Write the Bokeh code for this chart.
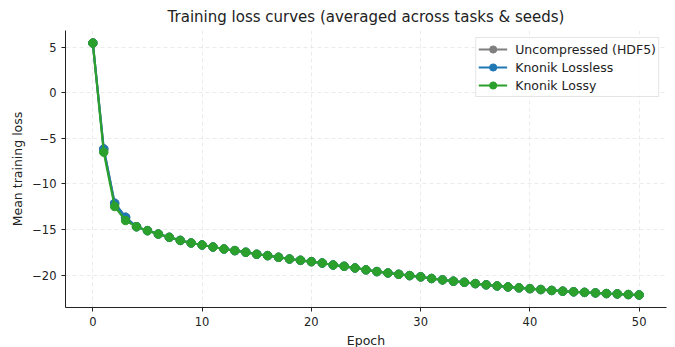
from bokeh.plotting import figure
from bokeh.models import FixedTicker, Range1d, Legend
from bokeh.embed import file_html
from bokeh.resources import INLINE

epochs = list(range(51))
tail = [-14.70, -15.13, -15.50, -15.86, -16.20, -16.48, -16.70, -16.92, -17.14, -17.32,
        -17.50, -17.72, -17.87, -18.05, -18.24, -18.38, -18.53, -18.68, -18.90, -19.04,
        -19.22, -19.43, -19.62, -19.77, -19.92, -20.06, -20.20, -20.38, -20.53, -20.67,
        -20.79, -20.94, -21.07, -21.19, -21.30, -21.40, -21.49, -21.59, -21.69, -21.77,
        -21.84, -21.90, -21.96, -22.03, -22.07, -22.14, -22.18]
uncompressed = [5.45, -6.17, -12.12, -13.66] + tail
lossless = [5.45, -6.17, -12.12, -13.66] + tail
lossy = [5.45, -6.52, -12.48, -14.02] + tail
series_names = ["Uncompressed (HDF5)", "Knonik Lossless", "Knonik Lossy"]
colors = ["#7f7f7f", "#1f77b4", "#2ca02c"]
x_ticks = [0, 10, 20, 30, 40, 50]
y_ticks = [5, 0, -5, -10, -15, -20]

FONT = "DejaVu Sans"

p = figure(frame_width=601, frame_height=277, output_backend="svg", toolbar_location=None,
           x_range=Range1d(-2.5, 52.5), y_range=Range1d(-23.56, 6.83),
           title="Training loss curves (averaged across tasks & seeds)")
p.min_border_left = 65
p.min_border_right = 2
p.min_border_top = 27
p.min_border_bottom = 38

p.title.text_font = FONT
p.title.text_font_size = "15px"
p.title.text_font_style = "normal"
p.title.align = "center"
p.title.text_color = "#222222"

items = []
for name, ys, c in zip(series_names, [uncompressed, lossless, lossy], colors):
    l = p.line(epochs, ys, line_color=c, line_width=2.2)
    s = p.scatter(epochs, ys, size=8.5, fill_color=c, line_color=c)
    items.append((name, [l, s]))

legend = Legend(items=items, location="top_right")
legend.label_text_font = FONT
legend.label_text_font_size = "12.5px"
legend.label_text_color = "#222222"
legend.border_line_color = "#cccccc"
legend.border_line_width = 1
legend.background_fill_alpha = 0.85
legend.glyph_width = 29
legend.label_standoff = 8
legend.spacing = 0
legend.padding = 2
legend.margin = 7
legend.label_height = 18
legend.glyph_height = 18
p.add_layout(legend)

p.outline_line_color = None
p.xaxis.ticker = FixedTicker(ticks=x_ticks)
p.yaxis.ticker = FixedTicker(ticks=y_ticks)
p.yaxis.major_label_overrides = {t: (str(t).replace("-", "\u2212")) for t in y_ticks}
for ax in (p.xaxis, p.yaxis):
    ax.minor_tick_line_color = None
    ax.major_tick_in = 0
    ax.major_tick_out = 4
    ax.major_label_text_font = FONT
    ax.major_label_text_font_size = "11.5px"
    ax.major_label_text_color = "#222222"
    ax.axis_label_text_font = FONT
    ax.axis_label_text_font_size = "12.5px"
    ax.axis_label_text_font_style = "normal"
    ax.axis_label_text_color = "#222222"
    ax.axis_line_color = "#222222"
    ax.major_tick_line_color = "#222222"
p.xaxis.axis_label = "Epoch"
p.yaxis.axis_label = "Mean training loss"
p.xaxis.axis_label_standoff = 4
p.yaxis.axis_label_standoff = 4

p.grid.grid_line_color = "#dddddd"
p.grid.grid_line_dash = "4 3"
p.grid.grid_line_alpha = 0.6

open("out.html", "w").write(file_html(p, INLINE))
